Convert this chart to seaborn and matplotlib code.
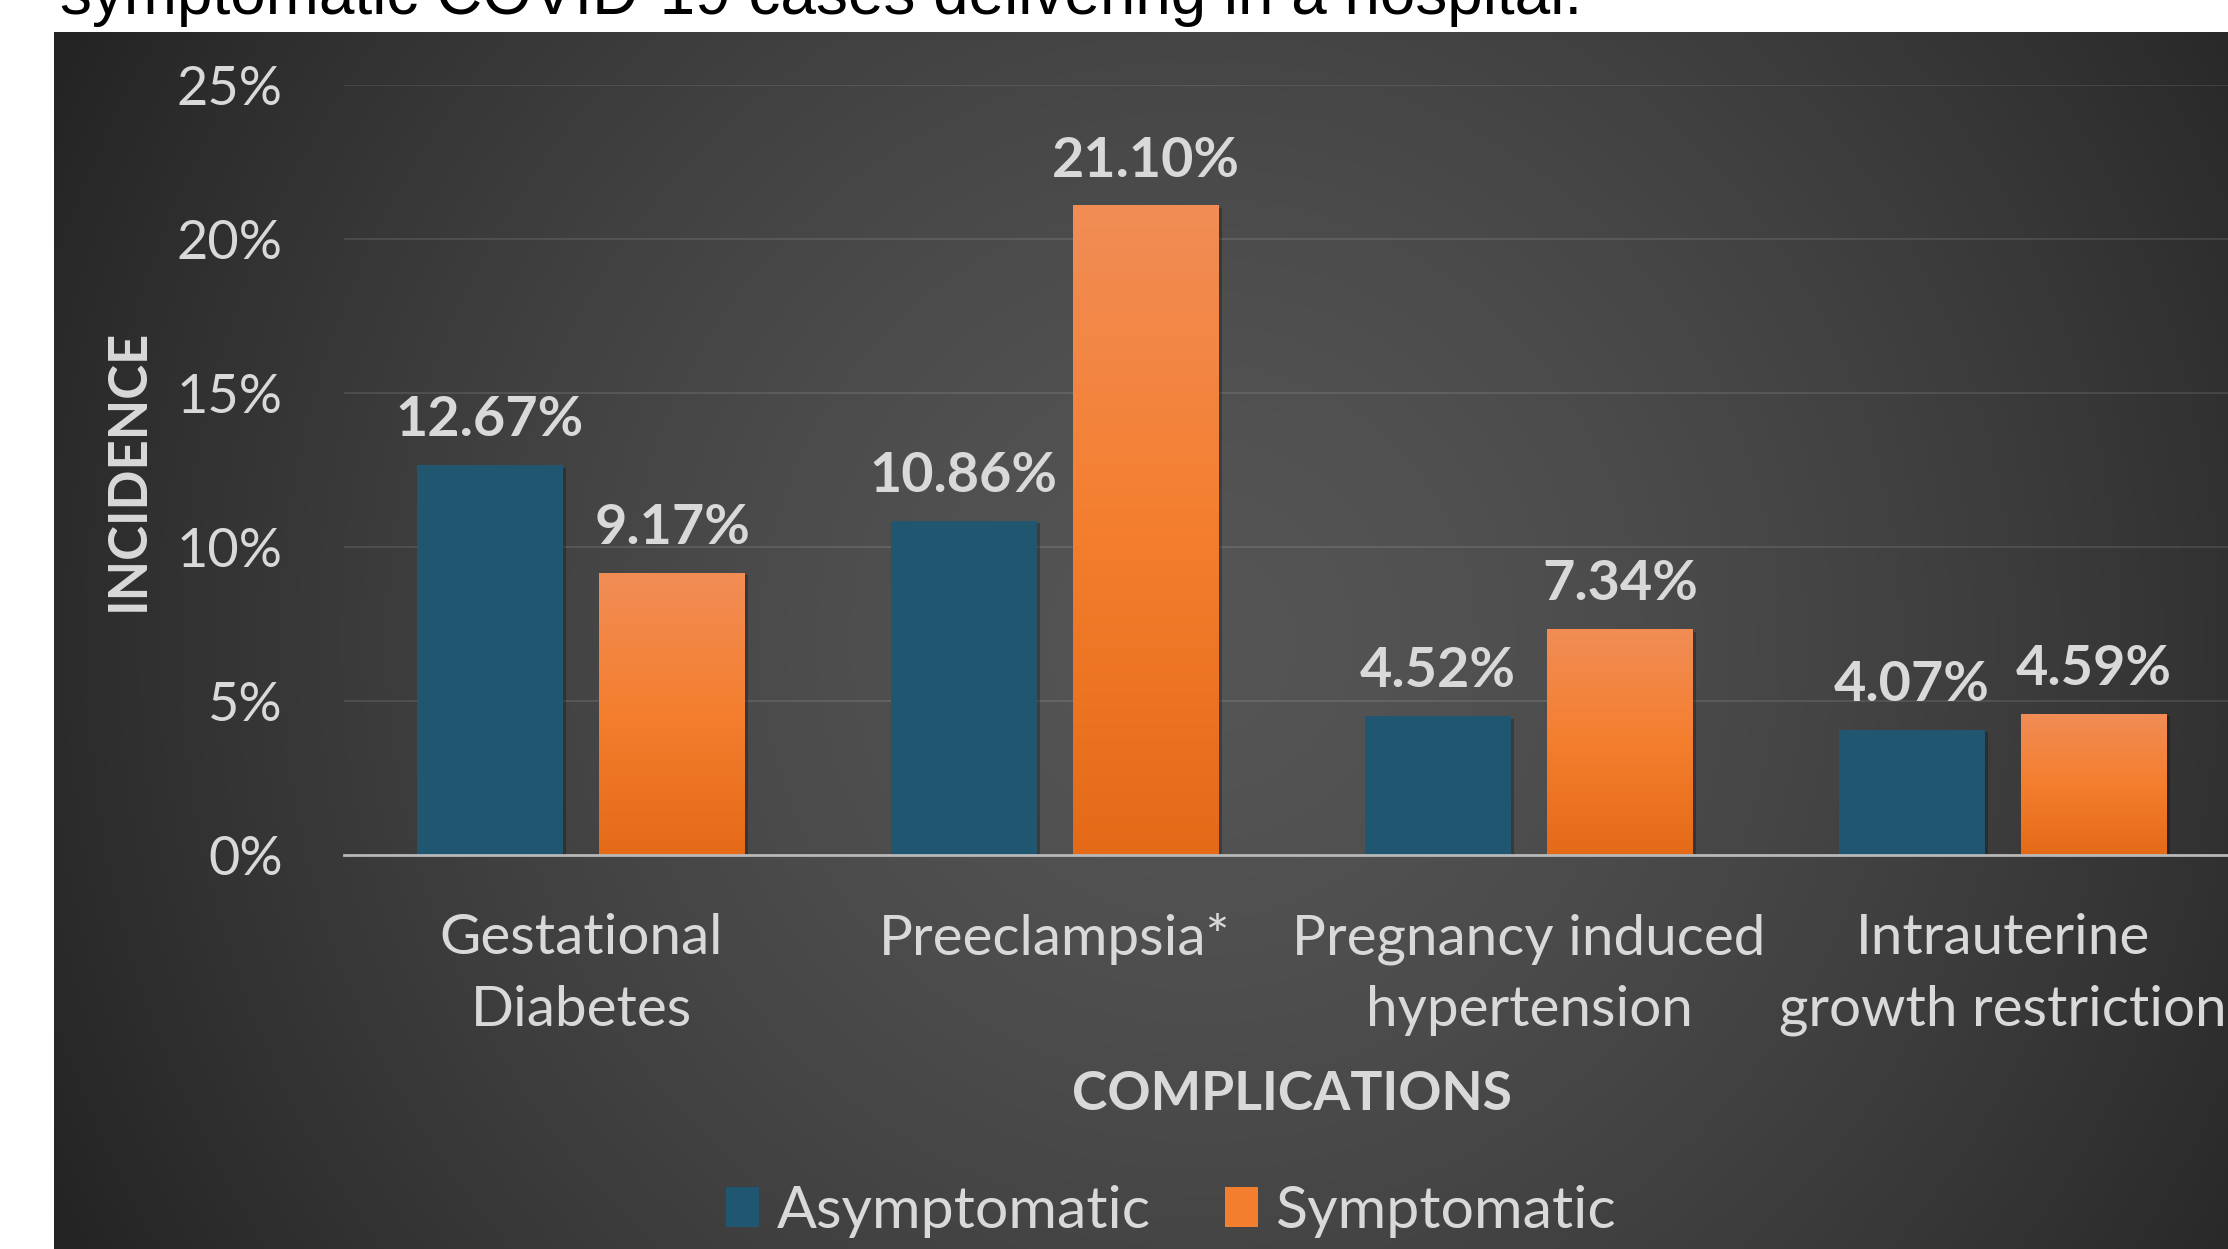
import matplotlib
matplotlib.use("Agg")
import matplotlib.pyplot as plt
from matplotlib.colors import LinearSegmentedColormap
from matplotlib.ticker import FuncFormatter
import matplotlib.patheffects as pe
import numpy as np
import pandas as pd
import seaborn as sns

# ---------------- data ----------------
categories = ["Gestational\nDiabetes", "Preeclampsia*", "Pregnancy induced\nhypertension",
              "Intrauterine\ngrowth restriction"]
groups = ["Asymptomatic", "Symptomatic"]
asymptomatic = [12.67, 10.86, 4.52, 4.07]
symptomatic = [9.17, 21.10, 7.34, 4.59]
y_ticks = [0, 5, 10, 15, 20, 25]
title_text = "symptomatic COVID-19 cases delivering in a hospital."
x_title = "COMPLICATIONS"
y_title = "INCIDENCE"

df = pd.DataFrame({
    "Complication": categories * 2,
    "Group": [groups[0]] * len(categories) + [groups[1]] * len(categories),
    "Incidence": asymptomatic + symptomatic,
})

# ---------------- figure ----------------
W, H, DPI = 2228, 1249, 100
FONT = ["Lato", "DejaVu Sans"]
TXT = "#d9d9d9"
plt.rcParams["font.family"] = FONT

fig = plt.figure(figsize=(W / DPI, H / DPI), dpi=DPI)
fig.patch.set_facecolor("white")
renderer = fig.canvas.get_renderer()


def size_for(s, target_px, weight="normal", family=FONT, vertical=False):
    t = fig.text(0, 0, s, fontsize=40, fontweight=weight, family=family)
    bb = t.get_window_extent(renderer)
    t.remove()
    cur = bb.height if vertical else bb.width
    return 40 * target_px / cur


# background panel with radial gradient
px0, py0 = 54, 32
bg = fig.add_axes([px0 / W, 0, 1 - px0 / W, (H - py0) / H])
pw, ph = W - px0, H - py0
yy, xx = np.mgrid[0:ph, 0:pw]
cx, cy = 1200 - px0, 640 - py0
d = np.hypot(xx - cx, yy - cy) / 1245.0
v = 85 - 47 * np.clip(d, 0, 1.2) ** 1.5
g = np.clip(v, 0, 255) / 255.0
bg.imshow(np.dstack([g, g, g]), aspect="auto", extent=[0, 1, 0, 1], origin="upper",
          interpolation="bilinear")
bg.set_axis_off()

# title fragment at the very top (cut off, as in the reference)
fs_title = size_for(title_text, 1524, family=["Liberation Sans", "DejaVu Sans"])
fig.text(60 / W, 1 - 14 / H, title_text, fontsize=fs_title, color="black",
         family=["Liberation Sans", "DejaVu Sans"], va="baseline", ha="left")

# main axes
ax = fig.add_axes([344 / W, (H - 855) / H, 1896 / W, 770 / H])
ax.set_facecolor("none")

palette = {"Asymptomatic": "#215670", "Symptomatic": "#f37e2d"}
sns.barplot(data=df, x="Complication", y="Incidence", hue="Group", hue_order=groups,
            palette=palette, width=0.77, gap=0.2, errorbar=None, saturation=1, ax=ax)

handles, labels = ax.get_legend_handles_labels()
if ax.get_legend() is not None:
    ax.get_legend().remove()

# shadows
for cont in ax.containers:
    for p in cont.patches:
        p.set_path_effects([pe.SimplePatchShadow(offset=(2, -2), shadow_rgbFace="black", alpha=0.25),
                            pe.Normal()])

# gradient on symptomatic bars
cmap = LinearSegmentedColormap.from_list("orng", ["#f18d56", "#f47e2e", "#e46a18"])
grad = np.linspace(0, 1, 256).reshape(-1, 1)
for p in ax.containers[1].patches:
    x0, y0, w, h = p.get_x(), p.get_y(), p.get_width(), p.get_height()
    im = ax.imshow(grad, cmap=cmap, extent=[x0, x0 + w, y0, y0 + h], origin="upper",
                   aspect="auto", zorder=p.get_zorder() + 0.01, interpolation="bilinear")
    im.set_clip_path(p)

ax.set_xlim(-0.5, len(categories) - 0.5)
ax.set_ylim(0, 25)
ax.set_yticks(y_ticks)
ax.yaxis.set_major_formatter(FuncFormatter(lambda val, pos: f"{val:.0f}%"))
ax.grid(axis="y", color="white", alpha=0.1, lw=1.5)
ax.set_axisbelow(True)
for s in ["top", "right", "left"]:
    ax.spines[s].set_visible(False)
ax.spines["bottom"].set_color("#b8b8b8")
ax.spines["bottom"].set_linewidth(2)
ax.spines["bottom"].set_zorder(5)

fs_xt = size_for("Gestational", 283)
fs_yt = size_for("25%", 106)
ax.tick_params(axis="x", length=0, colors=TXT, labelsize=fs_xt, pad=42)
ax.tick_params(axis="y", length=0, colors=TXT, labelsize=fs_yt, pad=44)
for t in ax.get_xticklabels():
    t.set_linespacing(1.5)

fs_xl = size_for(x_title, 440, weight="bold")
ax.set_xlabel(x_title, fontsize=fs_xl, fontweight="bold", color=TXT)
ax.xaxis.set_label_coords(0.5, (855 - 1094) / 770)
ax.xaxis.label.set_va("center")

fs_yl = size_for(y_title, 283, weight="bold")
ax.set_ylabel(y_title, fontsize=fs_yl, fontweight="bold", color=TXT)
ax.yaxis.set_label_coords((128 - 344) / 1896, 0.5)
ax.yaxis.label.set_va("center")

# data labels
fs_dl = size_for("21.10%", 188, weight="bold")
for cont in ax.containers:
    ax.bar_label(cont, labels=[f"{b.get_height():.2f}%" for b in cont.patches],
                 padding=14, fontsize=fs_dl, fontweight="bold", color=TXT)

# legend
fs_lg = size_for("Asymptomatic", 374)
leg = fig.legend(handles, labels, loc="center", bbox_to_anchor=(1171 / W, 1 - 1211 / H),
                 ncol=2, frameon=False, fontsize=fs_lg, handlelength=0.56, handleheight=0.66,
                 handletextpad=0.3, columnspacing=1.25, labelcolor=TXT)

fig.savefig("out.png", dpi=DPI)
